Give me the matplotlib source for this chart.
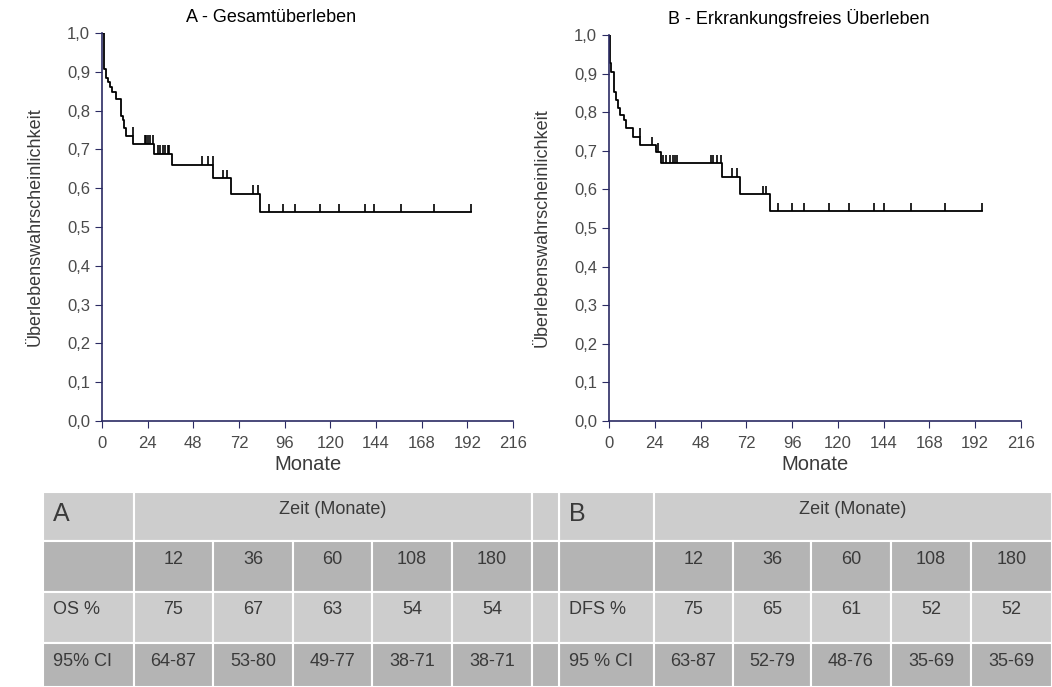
import numpy as np
import matplotlib
matplotlib.use("Agg")
import matplotlib.pyplot as plt
from matplotlib.patches import Rectangle

plt.rcParams["font.family"] = ["Liberation Sans", "DejaVu Sans"]

# ── Kaplan-Meier: Gesamtüberleben (A) ───────────────────────────────────────
os_t = [0, 1.0, 2.3, 3.2, 4.3, 5.4, 7.5, 10.0, 10.8, 11.3, 12.6, 16.5,
        27.2, 36.6, 58.5, 67.8, 83.2]
os_s = [1.0, 0.907, 0.884, 0.875, 0.862, 0.849, 0.830, 0.786, 0.776, 0.755,
        0.735, 0.715, 0.689, 0.660, 0.626, 0.585, 0.538]
os_cens = [16.3, 22.4, 23.3, 24.3, 25.4, 27.0, 29.2, 30.5, 32.2, 33.3, 34.5,
           35.4, 52.8, 55.5, 58.3, 63.6, 65.6, 79.6, 81.9, 88.0, 95.0, 101.5,
           114.6, 124.7, 138.0, 142.9, 157.3, 174.5, 193.9]

# ── Kaplan-Meier: erkrankungsfreies Überleben (B) ───────────────────────────
dfs_t = [0, 0.5, 1.2, 2.6, 3.5, 4.7, 5.9, 7.8, 9.0, 12.4, 16.4, 24.5, 27.4,
         59.1, 68.9, 84.4]
dfs_s = [1.0, 0.927, 0.905, 0.853, 0.832, 0.810, 0.793, 0.780, 0.758, 0.737,
         0.715, 0.698, 0.668, 0.633, 0.588, 0.543]
dfs_cens = [16.2, 22.6, 25.8, 28.3, 30.1, 31.8, 33.6, 34.5, 35.4, 53.5, 54.7,
            56.5, 58.8, 64.6, 67.2, 80.9, 82.1, 88.6, 96.2, 102.0, 115.1,
            125.6, 139.1, 144.1, 158.4, 176.3, 195.8]

# ── Tabelle ─────────────────────────────────────────────────────────────────
zeit = ["12", "36", "60", "108", "180"]
os_pct = [75, 67, 63, 54, 54]
os_ci = ["64-87", "53-80", "49-77", "38-71", "38-71"]
dfs_pct = [75, 65, 61, 52, 52]
dfs_ci = ["63-87", "52-79", "48-76", "35-69", "35-69"]

W, H = 1052, 687
AXIS_COL = "#2b2b63"
TEXT_COL = "#3a3a3a"


def km_panel(ax, t, s, cens):
    t = np.asarray(t)
    s = np.asarray(s)
    end = max(cens)
    ax.step(np.append(t, end), np.append(s, s[-1]), where="post",
            color="black", lw=1.3)
    # Zensierungsmarken: kurze Striche nach oben auf der Kurve
    lvl = s[np.searchsorted(t, cens, side="right") - 1]
    ax.vlines(cens, lvl, lvl + 0.022, color="black", lw=1.2)

    ax.set_xlim(0, 216)
    ax.set_ylim(0, 1.0)
    ax.set_xticks(np.arange(0, 217, 24))
    ax.set_yticks(np.arange(0, 1.01, 0.1))
    ax.set_yticklabels([f"{v:.1f}".replace(".", ",") for v in np.arange(0, 1.01, 0.1)])
    for side in ("top", "right"):
        ax.spines[side].set_visible(False)
    for side in ("left", "bottom"):
        ax.spines[side].set_color(AXIS_COL)
        ax.spines[side].set_linewidth(1.2)
    ax.tick_params(colors=AXIS_COL, labelcolor="#4a4a4a", labelsize=12,
                   length=5, direction="out")
    ax.tick_params(axis="x", pad=6)
    ax.set_ylabel("Überlebenswahrscheinlichkeit", fontsize=13,
                  color=TEXT_COL, labelpad=17)
    ax.set_xlabel("Monate", fontsize=14.5, color=TEXT_COL, labelpad=3)


fig = plt.figure(figsize=(W / 100, H / 100), dpi=100)
axA = fig.add_axes([102 / W, (H - 421) / H, 411 / W, 388 / H])
axB = fig.add_axes([609 / W, (H - 421) / H, 412 / W, 386 / H])
km_panel(axA, os_t, os_s, os_cens)
km_panel(axB, dfs_t, dfs_s, dfs_cens)
fig.text(271 / W, 1 - 18 / H, "A - Gesamtüberleben", ha="center",
         va="center", fontsize=13)
fig.text(799 / W, 1 - 18 / H, "B - Erkrankungsfreies Überleben", ha="center",
         va="center", fontsize=13)

# Tabelle in Pixelkoordinaten
tab = fig.add_axes([0, 0, 1, 1])
tab.set_xlim(0, W)
tab.set_ylim(H, 0)
tab.axis("off")

LIGHT, DARK = "#cdcdcd", "#b4b4b4"
rows = [492, 541, 592, 643, H]
row_col = [LIGHT, DARK, LIGHT, DARK]
colsA = [43, 134, 213, 293, 372, 452, 532]
colsB = [559, 654, 733, 811, 891, 971, W]


def cell(x0, x1, r, txt=None, ha="center", size=13):
    y0, y1 = rows[r], rows[r + 1]
    tab.add_patch(Rectangle((x0, y0), x1 - x0, y1 - y0, facecolor=row_col[r],
                            edgecolor="white", lw=1.5))
    if txt is not None:
        x = (x0 + x1) / 2 if ha == "center" else x0 + 10
        tab.text(x, y0 + 18, txt, ha=ha, va="center", fontsize=size,
                 color=TEXT_COL)


def block(cols, tag, lab, pct, ci_lab, ci):
    cell(cols[0], cols[1], 0)
    tab.text(cols[0] + 10, rows[0] + 22, tag, ha="left", va="center",
             fontsize=18, color=TEXT_COL)
    cell(cols[1], cols[-1], 0, "Zeit (Monate)")
    cell(cols[0], cols[1], 1)
    cell(cols[0], cols[1], 2, lab, ha="left")
    cell(cols[0], cols[1], 3, ci_lab, ha="left")
    for i in range(5):
        cell(cols[i + 1], cols[i + 2], 1, zeit[i])
        cell(cols[i + 1], cols[i + 2], 2, str(pct[i]))
        cell(cols[i + 1], cols[i + 2], 3, ci[i])


block(colsA, "A", "OS %", os_pct, "95% CI", os_ci)
block(colsB, "B", "DFS %", dfs_pct, "95 % CI", dfs_ci)
for r in range(4):
    cell(colsA[-1], colsB[0], r)

fig.savefig("out.png", dpi=100)
